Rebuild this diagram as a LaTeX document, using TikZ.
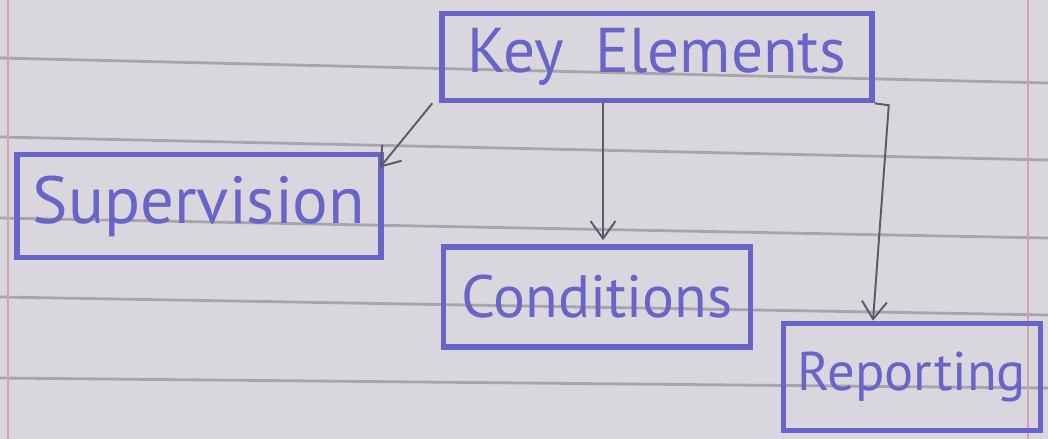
\documentclass[tikz,border=0pt]{standalone}
\usepackage{fontspec}
\setmainfont{PT Sans}
\usetikzlibrary{arrows.meta,calc}
\definecolor{ink}{RGB}{104,100,200}
\definecolor{pencil}{RGB}{92,90,100}
\definecolor{paper}{RGB}{218,214,222}
\definecolor{ruling}{RGB}{168,164,172}
\definecolor{margin}{RGB}{214,160,178}
\tikzset{
    inkbox/.style={draw=ink, line width=3.2pt, text=ink, inner sep=0pt,
        font=\fontsize{36}{40}\selectfont},
    pencilarrow/.style={draw=pencil, line width=1.1pt,
        -{Straight Barb[length=0.35cm, width=0.5cm]}}
}

\begin{document}
\begin{tikzpicture}[x=0.02cm, y=-0.02cm]
    % Paper with ruled lines
    \fill[paper] (0,0) rectangle (1048,439);
    \useasboundingbox (0,0) rectangle (1048,439);
    \foreach \ya/\yb in {58/83, 137/160, 218/238, 297/315, 378/388} {
        \draw[ruling, line width=1.6pt] (0,\ya) -- (1048,\yb);
    }
    \draw[margin, line width=1pt] (8,0) -- (8,439);
    \draw[margin, line width=1pt] (1028,0) -- (1028,439);

    % Boxes
    \node[inkbox, minimum width=8.6cm, minimum height=1.74cm] (key) at (657,57) {Key\enspace Elements};
    \node[inkbox, minimum width=7.28cm, minimum height=2.06cm, font=\fontsize{38}{42}\selectfont] (super) at (199,206) {Supervision};
    \node[inkbox, minimum width=6.14cm, minimum height=2cm, font=\fontsize{34}{38}\selectfont] (cond) at (597,297) {Conditions};
    \node[inkbox, minimum width=5.14cm, minimum height=2.14cm, font=\fontsize{31}{34}\selectfont] (report) at (912,377) {Reporting};

    % Arrows from the top box
    \draw[pencilarrow] ($(key.south west)+(-7,0)$) -- ($(super.north east)+(-4,16)$);
    \draw[pencilarrow] ($(cond.north |- key.south)+(6,0)$) -- ($(cond.north)+(6,-4)$);
    \coordinate (elbow) at ($(key.south east)+(14,2)$);
    \draw[pencilarrow] (key.south east) -- (elbow) -- ($(report.north)+(-39,0)$);
\end{tikzpicture}
\end{document}
